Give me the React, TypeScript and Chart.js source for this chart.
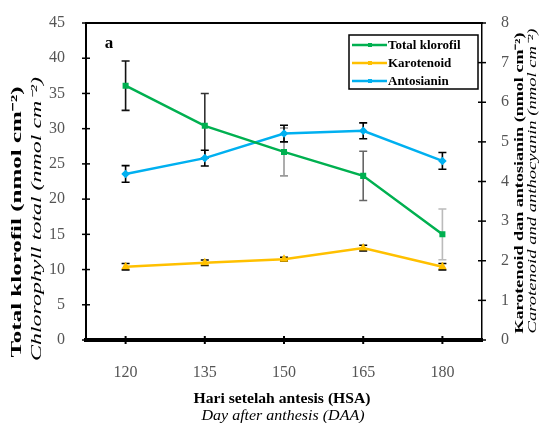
import React, { useEffect, useRef } from "react";
import { Chart, registerables } from "chart.js";

Chart.register(...registerables);

const days = ["120", "135", "150", "165", "180"];
const totalKlorofil = [36.1, 30.4, 26.7, 23.3, 15.0];
const totalKlorofilErr = [3.5, 4.6, 3.4, 3.5, 3.6];
const totalKlorofilErrColors = ["#111", "#333", "#999", "#666", "#bbb"];
const karotenoid = [1.85, 1.95, 2.04, 2.32, 1.85];
const karotenoidErr = [0.08, 0.07, 0.05, 0.07, 0.08];
const antosianin = [4.19, 4.59, 5.21, 5.28, 4.52];
const antosianinErr = [0.21, 0.2, 0.21, 0.2, 0.21];
const leftMax = 45;
const leftStep = 5;
const rightMax = 8;
const rightStep = 1;

const SERIF = '"Liberation Serif", "Times New Roman", serif';

const leftTitle = "Total klorofil (nmol cm\u207B\u00B2)";
const leftTitleEn = "Chlorophyll total (nmol cm\u207B\u00B2)";
const rightTitle = "Karotenoid dan antosianin (nmol cm\u207B\u00B2)";
const rightTitleEn = "Carotenoid and anthocyanin (nmol cm\u207B\u00B2)";
const xTitle = "Hari setelah antesis (HSA)";
const xTitleEn = "Day after anthesis (DAA)";
const panelLabel = "a";

function stretchedText(
  ctx: CanvasRenderingContext2D,
  text: string,
  cx: number,
  cy: number,
  angle: number,
  font: string,
  length: number
) {
  ctx.save();
  ctx.font = font;
  ctx.fillStyle = "#000";
  ctx.textAlign = "center";
  ctx.textBaseline = "middle";
  ctx.translate(cx, cy);
  ctx.rotate(angle);
  const w = ctx.measureText(text).width;
  ctx.scale(length / w, 1);
  ctx.fillText(text, 0, 0);
  ctx.restore();
}

const errorBarsPlugin = {
  id: "errorBars",
  beforeDatasetsDraw(chart: any) {
    const ctx = chart.ctx;
    chart.data.datasets.forEach((ds: any, i: number) => {
      const meta = chart.getDatasetMeta(i);
      const yScale = chart.scales[ds.yAxisID];
      ds.errors.forEach((e: number, j: number) => {
        const pt = meta.data[j];
        const x = pt.x;
        const v = ds.data[j];
        const top = yScale.getPixelForValue(v + e);
        const bot = yScale.getPixelForValue(v - e);
        ctx.save();
        ctx.strokeStyle = ds.errorColors ? ds.errorColors[j] : "#000";
        ctx.lineWidth = 1.6;
        ctx.beginPath();
        ctx.moveTo(x, top);
        ctx.lineTo(x, bot);
        ctx.moveTo(x - 4, top);
        ctx.lineTo(x + 4, top);
        ctx.moveTo(x - 4, bot);
        ctx.lineTo(x + 4, bot);
        ctx.stroke();
        ctx.restore();
      });
    });
  },
};

const framePlugin = {
  id: "frame",
  afterDraw(chart: any) {
    const ctx = chart.ctx;
    const { left, right, top, bottom } = chart.chartArea;
    const ys = chart.scales.y;
    const yr = chart.scales.y1;
    const xs = chart.scales.x;
    ctx.save();
    ctx.strokeStyle = "#000";
    // top border
    ctx.lineWidth = 2;
    ctx.beginPath();
    ctx.moveTo(left - 1, top);
    ctx.lineTo(right + 1, top);
    ctx.stroke();
    // left tick marks
    ctx.lineWidth = 1.5;
    ys.ticks.forEach((t: any) => {
      const y = ys.getPixelForValue(t.value);
      ctx.beginPath();
      ctx.moveTo(left - 4, y);
      ctx.lineTo(left + 4, y);
      ctx.stroke();
    });
    yr.ticks.forEach((t: any) => {
      const y = yr.getPixelForValue(t.value);
      ctx.beginPath();
      ctx.moveTo(right - 4, y);
      ctx.lineTo(right + 4, y);
      ctx.stroke();
    });
    ctx.lineWidth = 2;
    xs.ticks.forEach((t: any, i: number) => {
      const x = xs.getPixelForTick(i);
      ctx.beginPath();
      ctx.moveTo(x, bottom - 4);
      ctx.lineTo(x, bottom + 4);
      ctx.stroke();
    });
    ctx.restore();

    // titles
    stretchedText(ctx, leftTitle, 17, 222, -Math.PI / 2, `bold 14px ${SERIF}`, 271);
    stretchedText(ctx, leftTitleEn, 37, 219, -Math.PI / 2, `italic 14px ${SERIF}`, 284);
    stretchedText(ctx, rightTitle, 520, 183, -Math.PI / 2, `bold 13px ${SERIF}`, 301);
    stretchedText(ctx, rightTitleEn, 533, 181, -Math.PI / 2, `italic 13px ${SERIF}`, 305);
    stretchedText(ctx, xTitle, 282, 399, 0, `bold 15px ${SERIF}`, 177);
    stretchedText(ctx, xTitleEn, 283, 416, 0, `italic 15px ${SERIF}`, 163);

    // panel label
    ctx.save();
    ctx.font = `bold 17px ${SERIF}`;
    ctx.fillStyle = "#000";
    ctx.textAlign = "center";
    ctx.textBaseline = "middle";
    ctx.fillText(panelLabel, 109, 44);
    ctx.restore();

    // legend
    const bx = 349, by = 35, bw = 129, bh = 54;
    ctx.save();
    ctx.fillStyle = "#fff";
    ctx.fillRect(bx, by, bw, bh);
    ctx.strokeStyle = "#000";
    ctx.lineWidth = 1.5;
    ctx.strokeRect(bx, by, bw, bh);
    chart.data.datasets.forEach((ds: any, i: number) => {
      const y = 45 + i * 18;
      ctx.strokeStyle = ds.borderColor;
      ctx.lineWidth = 2.5;
      ctx.beginPath();
      ctx.moveTo(352, y);
      ctx.lineTo(387, y);
      ctx.stroke();
      ctx.fillStyle = ds.borderColor;
      ctx.fillRect(368, y - 2, 4, 4);
      ctx.fillStyle = "#000";
      ctx.font = `bold 13px ${SERIF}`;
      ctx.textAlign = "left";
      ctx.textBaseline = "middle";
      ctx.fillText(ds.label, 388, y + 1);
    });
    ctx.restore();
  },
};

export default function App() {
  const ref = useRef<HTMLCanvasElement | null>(null);
  useEffect(() => {
    if (!ref.current) return;
    const tickFont = { family: SERIF, size: 16 };
    const chart = new Chart(ref.current, {
      type: "line",
      data: {
        labels: days,
        datasets: [
          {
            label: "Total klorofil",
            data: totalKlorofil,
            errors: totalKlorofilErr,
            errorColors: totalKlorofilErrColors,
            yAxisID: "y",
            borderColor: "#00B050",
            backgroundColor: "#00B050",
            borderWidth: 2.5,
            pointStyle: "rect",
            pointRadius: 2.5,
            tension: 0,
          },
          {
            label: "Karotenoid",
            data: karotenoid,
            errors: karotenoidErr,
            yAxisID: "y1",
            borderColor: "#FFC000",
            backgroundColor: "#FFC000",
            borderWidth: 2.5,
            pointStyle: "triangle",
            pointRadius: 2.5,
            tension: 0,
          },
          {
            label: "Antosianin",
            data: antosianin,
            errors: antosianinErr,
            yAxisID: "y1",
            borderColor: "#00B0F0",
            backgroundColor: "#00B0F0",
            borderWidth: 2.5,
            pointStyle: "rectRot",
            pointRadius: 2.5,
            tension: 0,
          },
        ] as any,
      },
      options: {
        animation: false,
        responsive: false,
        devicePixelRatio: 1,
        layout: { padding: { top: 23, left: 0, right: 0, bottom: 0 } },
        plugins: { legend: { display: false }, tooltip: { enabled: false } },
        scales: {
          x: {
            type: "category",
            offset: true,
            grid: { display: false },
            border: { display: true, color: "#000", width: 4 },
            ticks: { font: tickFont, color: "#555", padding: 15 },
            afterFit: (s: any) => {
              s.height = 83;
            },
          },
          y: {
            position: "left",
            min: 0,
            max: leftMax,
            grid: { display: false },
            border: { display: true, color: "#000", width: 2 },
            ticks: { stepSize: leftStep, font: tickFont, color: "#555", padding: 13 },
            afterFit: (s: any) => {
              s.width = 86;
            },
          },
          y1: {
            position: "right",
            min: 0,
            max: rightMax,
            grid: { display: false },
            border: { display: true, color: "#000", width: 1.5 },
            ticks: { stepSize: rightStep, font: tickFont, color: "#555", padding: 11 },
            afterFit: (s: any) => {
              s.width = 66;
            },
          },
        },
      } as any,
      plugins: [errorBarsPlugin, framePlugin],
    });
    return () => chart.destroy();
  }, []);
  return (
    <div style={{ position: "fixed", left: 0, top: 0, width: 548, height: 423, background: "#fff" }}>
      <canvas ref={ref} width={548} height={423} style={{ display: "block" }} />
    </div>
  );
}
